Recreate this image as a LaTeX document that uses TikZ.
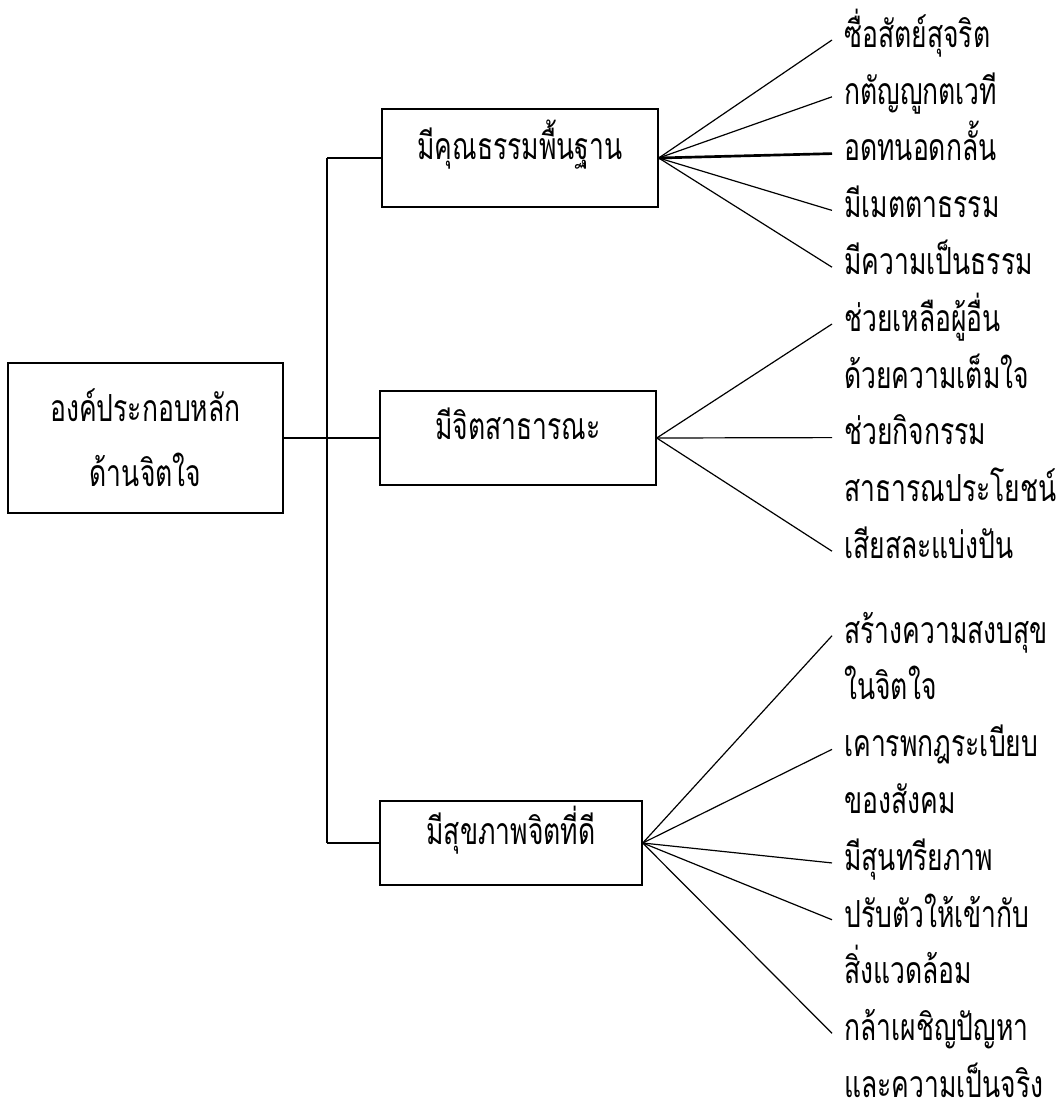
\documentclass[tikz,border=0pt]{standalone}
\usepackage{fontspec}
\newfontfamily\thaifont[Script=Thai,FakeStretch=0.71]{Loma}
\usetikzlibrary{positioning}

\begin{document}
\begin{tikzpicture}[
x=0.75pt,y=-0.75pt,
node distance=21.2pt,
every node/.style={font=\thaifont\fontsize{28}{40}\selectfont},
box/.style={draw,line width=1.1pt,inner sep=0pt,align=center},
sub/.style={box,text height=18pt,text depth=16pt},
leaf/.style={text width=165pt,align=left,inner xsep=9pt,inner ysep=0pt,text height=16pt,text depth=5pt},
link/.style={line width=1.4pt},
spine/.style={line width=2pt},
fan/.style={line width=0.9pt}
]
\useasboundingbox (0,0) rectangle (1059,1117);
\node[box,minimum width=206.25pt,minimum height=112.5pt] (root) at (145.5,438) {องค์ประกอบหลัก\\[9pt]ด้านจิตใจ};
\node[sub,minimum width=207pt,minimum height=73.5pt] (moral) at (520,158) {มีคุณธรรมพื้นฐาน};
\node[sub,minimum width=207pt,minimum height=70.5pt] (public) at (518,438) {มีจิตสาธารณะ};
\node[sub,minimum width=196.5pt,minimum height=63pt] (health) at (511,843) {มีสุขภาพจิตที่ดี};
\coordinate (spine) at (327,438);

\node[leaf,anchor=west] (honest) at (832,40) {ซื่อสัตย์สุจริต};
\node[leaf,below=of honest] (grateful) {กตัญญูกตเวที};
\node[leaf,below=of grateful] (patient) {อดทนอดกลั้น};
\node[leaf,below=of patient] (kind) {มีเมตตาธรรม};
\node[leaf,below=of kind] (fair) {มีความเป็นธรรม};
\node[leaf,below=of fair] (help) {ช่วยเหลือผู้อื่น};
\node[leaf,below=of help] (helpb) {ด้วยความเต็มใจ};
\node[leaf,below=of helpb] (activity) {ช่วยกิจกรรม};
\node[leaf,below=of activity] (activityb) {สาธารณประโยชน์};
\node[leaf,below=of activityb] (share) {เสียสละแบ่งปัน};
\node[leaf,below=42pt of share] (peace) {สร้างความสงบสุข};
\node[leaf,below=of peace] (peaceb) {ในจิตใจ};
\node[leaf,below=of peaceb] (rules) {เคารพกฎระเบียบ};
\node[leaf,below=of rules] (rulesb) {ของสังคม};
\node[leaf,below=of rulesb] (beauty) {มีสุนทรียภาพ};
\node[leaf,below=of beauty] (adapt) {ปรับตัวให้เข้ากับ};
\node[leaf,below=of adapt] (adaptb) {สิ่งแวดล้อม};
\node[leaf,below=of adaptb] (face) {กล้าเผชิญปัญหา};
\node[leaf,below=of face] (faceb) {และความเป็นจริง};

\draw[link] (root.east) -- (public.west);
\draw[spine] (moral.west -| spine) -- (health.west -| spine);
\draw[link] (moral.west -| spine) -- (moral.west);
\draw[link] (health.west -| spine) -- (health.west);

\draw[fan] (moral.east) -- (honest.west);
\draw[fan] (moral.east) -- (grateful.west);
\draw[spine] (moral.east) -- (patient.west);
\draw[fan] (moral.east) -- (kind.west);
\draw[fan] (moral.east) -- (fair.west);

\draw[fan] (public.east) -- (help.west);
\draw[fan] (public.east) -- (activity.west);
\draw[fan] (public.east) -- (share.west);

\draw[fan] (health.east) -- (peace.west);
\draw[fan] (health.east) -- (rules.west);
\draw[fan] (health.east) -- (beauty.west);
\draw[fan] (health.east) -- (adapt.west);
\draw[fan] (health.east) -- (face.west);
\end{tikzpicture}
\end{document}
